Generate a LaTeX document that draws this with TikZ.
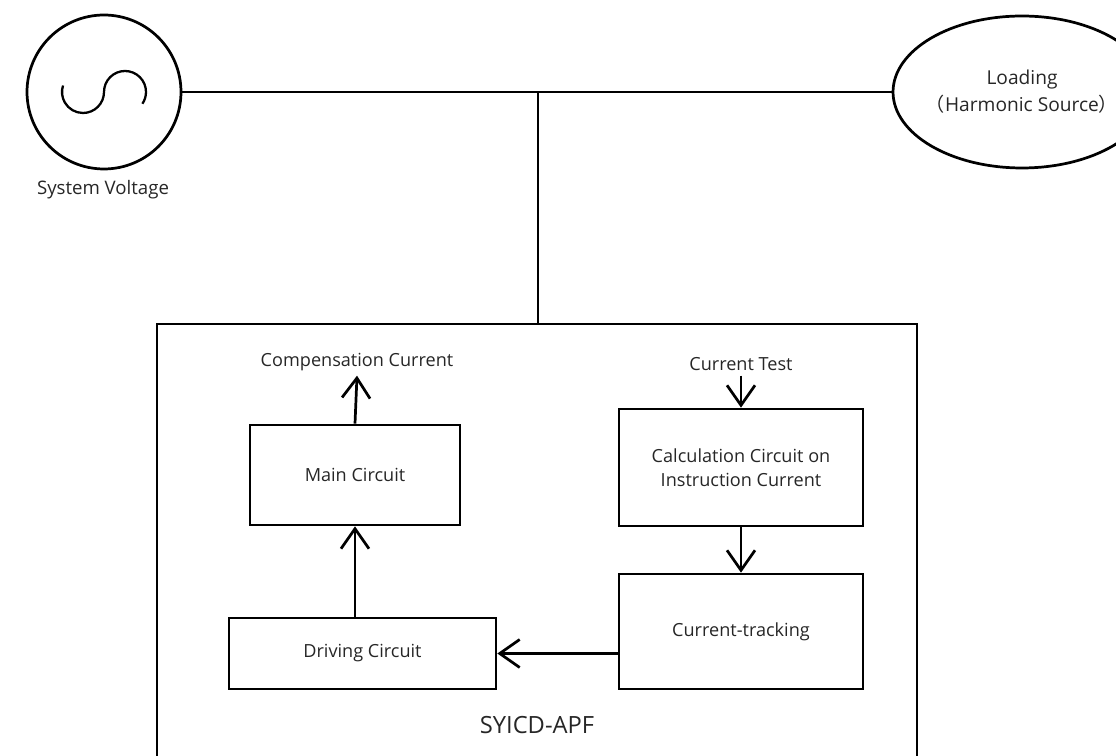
\documentclass[tikz,border=0pt]{standalone}
\usepackage{fontspec}
\setmainfont{Open Sans}
\newfontfamily\cjk{Noto Sans CJK SC}
\usetikzlibrary{arrows.meta,shapes.geometric}
\tikzstyle{block} = [draw, rectangle, inner sep=0pt, align=center, font=\fontsize{10.3}{13.6}\selectfont]
\tikzstyle{lbl} = [inner sep=2pt, align=center, font=\fontsize{10.3}{13.6}\selectfont]

\begin{document}
\begin{tikzpicture}[x=0.02cm, y=-0.02cm, line width=1.55pt, text=black!85,
    >={Straight Barb[length=4mm,width=5.6mm]}]
\useasboundingbox (0,0) rectangle (1116,756);

\node[circle, draw, minimum size=3.08cm, inner sep=0pt] (src) at (104,92) {};
\draw[line width=1.3pt] (src.center) arc[start angle=0, end angle=198, radius=21];
\draw[line width=1.3pt] (src.center) arc[start angle=180, end angle=394, radius=21];
\node[lbl, font=\fontsize{10.6}{13}\selectfont] (sysv) at (103,190) {System Voltage};

\node[ellipse, draw, minimum width=5.16cm, minimum height=3.04cm, inner sep=0pt,
    align=center, font=\fontsize{10.9}{15.3}\selectfont] (load) at (1022,92)
    {Loading\\\kern-0.45em{\cjk （}Harmonic Source{\cjk ）}\kern-0.45em};

\coordinate (tap) at (538,92);
\coordinate (apfnw) at (157,324);
\coordinate (apfne) at (917,324);
\coordinate (apfsw) at (157,760);
\coordinate (apfse) at (917,760);

\draw (src.east) -- (load.west);
\draw (tap) -- (tap |- apfnw);
\draw (apfsw) -- (apfnw) -- (apfne) -- (apfse);

\node[block, minimum width=4.2cm, minimum height=2cm] (main) at (355,475) {Main Circuit};
\node[block, minimum width=5.34cm, minimum height=1.42cm] (drive) at (362.5,653.5) {Driving Circuit};
\node[block, minimum width=4.88cm, minimum height=2.34cm] (calc) at (741,467.5) {Calculation Circuit on\\Instruction Current};
\node[block, minimum width=4.88cm, minimum height=2.3cm] (track) at (741,631.5) {Current-tracking};

\node[lbl] (comp) at (357,362) {Compensation Current};
\node[lbl] (test) at (741,364) {Current Test};
\node[lbl, font=\fontsize{13.5}{16}\selectfont] (apf) at (537,725) {SYICD-APF};

\draw[->] (main.north) -- (comp.south);
\draw[->] (test.south) -- (calc.north);
\draw[->] (calc) -- (track);
\draw[->] (drive.east -| track.west) -- (drive.east);
\draw[->] (drive.north -| main) -- (main.south);
\end{tikzpicture}
\end{document}
